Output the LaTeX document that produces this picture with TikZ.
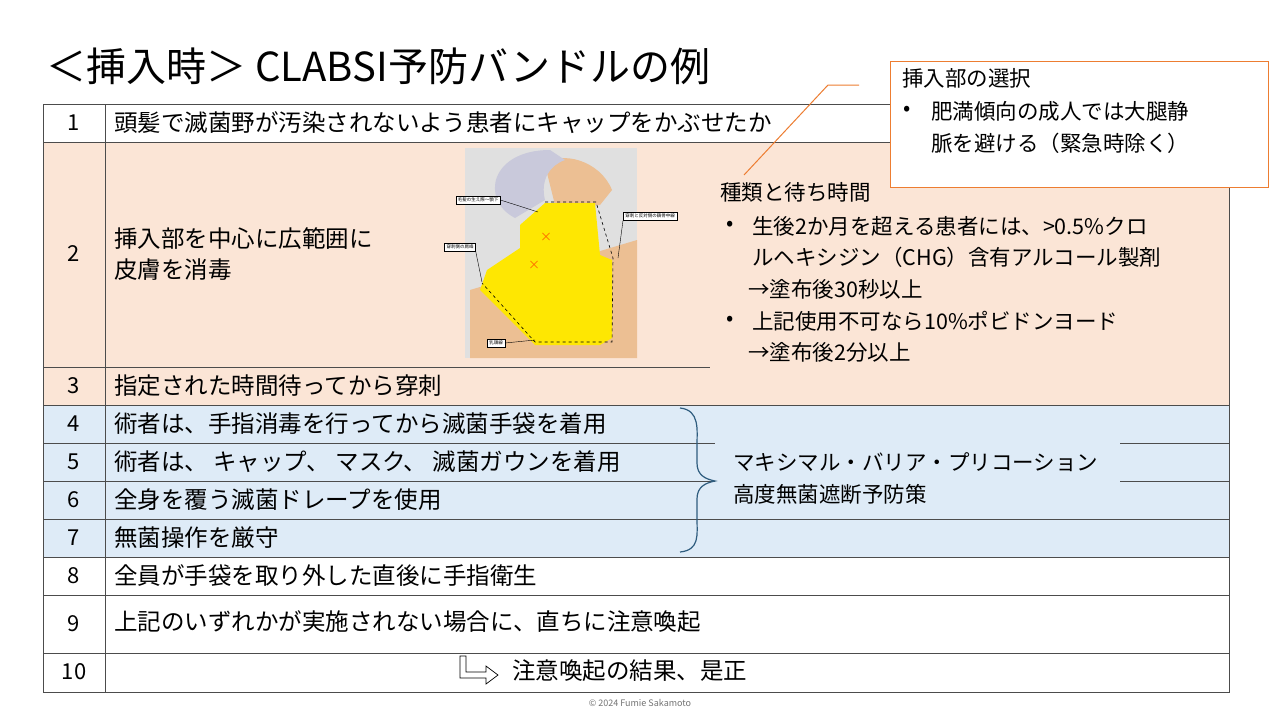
\documentclass[tikz,border=0pt]{standalone}
\usepackage{fontspec}
\setmainfont{Noto Sans CJK JP}
\begin{document}
\begin{tikzpicture}[x=1pt,y=-1pt,
  tx/.style={anchor=west,inner sep=0pt,font=\fontsize{23.5}{28}\selectfont},
  rt/.style={anchor=west,inner sep=0pt,font=\fontsize{21.5}{26}\selectfont},
  num/.style={anchor=center,inner sep=0pt,font=\fontsize{22}{25}\selectfont},
  lbl/.style={draw=black,fill=white,inner sep=2pt,font=\fontsize{4.5}{5}\selectfont,line width=0.4pt},
  grid/.style={draw=black!70,line width=0.8pt}]
\definecolor{peach}{HTML}{FBE5D6}
\definecolor{lblue}{HTML}{DEEBF7}
\definecolor{orng}{HTML}{ED7D31}
\definecolor{brc}{HTML}{2E5C7E}
\useasboundingbox (0,0) rectangle (1280,720);
\fill[white] (0,0) rectangle (1280,720);
\fill[peach] (43,142) rectangle (1229,405);
\fill[lblue] (43,405) rectangle (1229,557);
\draw[grid] (43,104) rectangle (1229,692);
\draw[grid] (105,104) -- (105,692);
\draw[grid] (43,142) -- (1229,142);
\draw[grid] (43,367) -- (710,367);
\draw[grid] (43,405) -- (1229,405);
\draw[grid] (43,443) -- (715,443) (1120,443) -- (1229,443);
\draw[grid] (43,481) -- (715,481) (1120,481) -- (1229,481);
\draw[grid] (43,519) -- (1229,519);
\draw[grid] (43,557) -- (1229,557);
\draw[grid] (43,595) -- (1229,595);
\draw[grid] (43,653) -- (1229,653);
\node[anchor=west,inner sep=0pt,font=\fontsize{40}{46}\selectfont] (title) at (46,66) {＜挿入時＞ CLABSI予防バンドルの例};
\node[num] (n1) at (74,123) {1};
\node[num] (n2) at (74,254) {2};
\node[num] (n3) at (74,386) {3};
\node[num] (n4) at (74,424) {4};
\node[num] (n5) at (74,462) {5};
\node[num] (n6) at (74,500) {6};
\node[num] (n7) at (74,538) {7};
\node[num] (n8) at (74,576) {8};
\node[num] (n9) at (74,624) {9};
\node[num] (n10) at (74,672) {10};
\node[tx] (t1) at (114,123) {頭髪で滅菌野が汚染されないよう患者にキャップをかぶせたか};
\node[tx] (t2a) at (114,239) {挿入部を中心に広範囲に};
\node[tx] (t2b) at (114,270) {皮膚を消毒};
\node[tx] (t3) at (114,386) {指定された時間待ってから穿刺};
\node[tx] (t4) at (114,424) {術者は、手指消毒を行ってから滅菌手袋を着用};
\node[tx] (t5) at (114,462) {術者は、 キャップ、 マスク、 滅菌ガウンを着用};
\node[tx] (t6) at (114,500) {全身を覆う滅菌ドレープを使用};
\node[tx] (t7) at (114,538) {無菌操作を厳守};
\node[tx] (t8) at (114,576) {全員が手袋を取り外した直後に手指衛生};
\node[tx] (t9) at (114,622) {上記のいずれかが実施されない場合に、直ちに注意喚起};
\node[tx] (t10) at (512,671) {注意喚起の結果、是正};
\draw[line width=0.7pt,fill=white] (460,656) -- (466,656) -- (466,672) -- (486,672) -- (486,666) -- (498,675) -- (486,684) -- (486,678) -- (460,678) -- cycle;
% photo placeholder
\fill[black!12] (465,148) rectangle (637,358);
\fill[brown!60!orange!50] (470,290) -- (637,240) -- (637,358) -- (470,358) -- cycle;
\fill[brown!60!orange!50] (545,165) .. controls (560,150) and (600,160) .. (612,190) -- (600,205) -- (555,205) -- cycle;
\fill[blue!20!gray!35] (550,150) .. controls (490,150) and (480,200) .. (515,218) -- (545,200) .. controls (540,180) and (550,165) .. (565,160) -- cycle;
\fill[yellow!90!orange] (545,203) -- (595,203) -- (600,255) -- (612,260) -- (612,338) -- (600,345) -- (535,345) -- (480,290) -- (487,270) -- (520,248) -- (520,225) -- cycle;
\draw[dashed,line width=0.6pt] (545,202) -- (596,202) -- (613,258) -- (612,342) -- (535,342) -- (482,283);
\node[text=orange!80!red,font=\fontsize{12}{12}\selectfont,inner sep=0pt] (x1) at (546,237) {×};
\node[text=orange!80!red,font=\fontsize{12}{12}\selectfont,inner sep=0pt] (x2) at (534,265) {×};
\node[lbl] (l1) at (478,200) {毛髪の生え際〜顎下};
\node[lbl] (l2) at (650,216) {穿刺と反対側の鎖骨中線};
\node[lbl] (l3) at (460,247) {穿刺側の肩峰};
\node[lbl] (l4) at (496,343) {乳頭線};
\draw[line width=0.4pt] (l1.east) -- (538,212);
\draw[line width=0.4pt] (l2.south west) -- (618,258);
\draw[line width=0.4pt] (l3.south east) -- (482,282);
\draw[line width=0.4pt] (l4.east) -- (535,340);
\node[rt] (k0) at (720,192) {種類と待ち時間};
\node[rt] (kb1) at (726,226) {•};
\node[rt] (k1) at (752,226) {生後2か月を超える患者には、>0.5\%クロ};
\node[rt] (k2) at (752,257) {ルヘキシジン（CHG）含有アルコール製剤};
\node[rt] (k3) at (748,289) {→塗布後30秒以上};
\node[rt] (kb2) at (726,321) {•};
\node[rt] (k4) at (752,321) {上記使用不可なら10\%ポビドンヨード};
\node[rt] (k5) at (748,352) {→塗布後2分以上};
\node[draw=orng,line width=1.2pt,fill=white,minimum width=378pt,minimum height=126pt,anchor=north west,inner sep=0pt] (cb) at (890,61) {};
\node[rt] (c0) at (902,78) {挿入部の選択};
\node[rt] (cb1) at (903,111) {•};
\node[rt] (c1) at (931,111) {肥満傾向の成人では大腿静};
\node[rt] (c2) at (931,143) {脈を避ける（緊急時除く）};
\coordinate (cl1) at (859,85);
\coordinate (cl2) at (828,85);
\coordinate (cl3) at (744,175);
\draw[orng,line width=1pt] (cl1) -- (cl2) -- (cl3);
\draw[brc,line width=1.2pt] (680,408) .. controls (700,410) and (697,430) .. (697,445) -- (697,463) .. controls (697,475) and (705,479) .. (715,481) .. controls (705,483) and (697,487) .. (697,499) -- (697,518) .. controls (697,535) and (700,550) .. (680,552);
\node[rt] (m1) at (733,462) {マキシマル・バリア・プリコーション};
\node[rt] (m2) at (733,494) {高度無菌遮断予防策};
\node[font=\fontsize{9}{10}\selectfont,text=black!55,inner sep=0pt] (copy) at (640,703) {© 2024 Fumie Sakamoto};
\end{tikzpicture}
\end{document}
